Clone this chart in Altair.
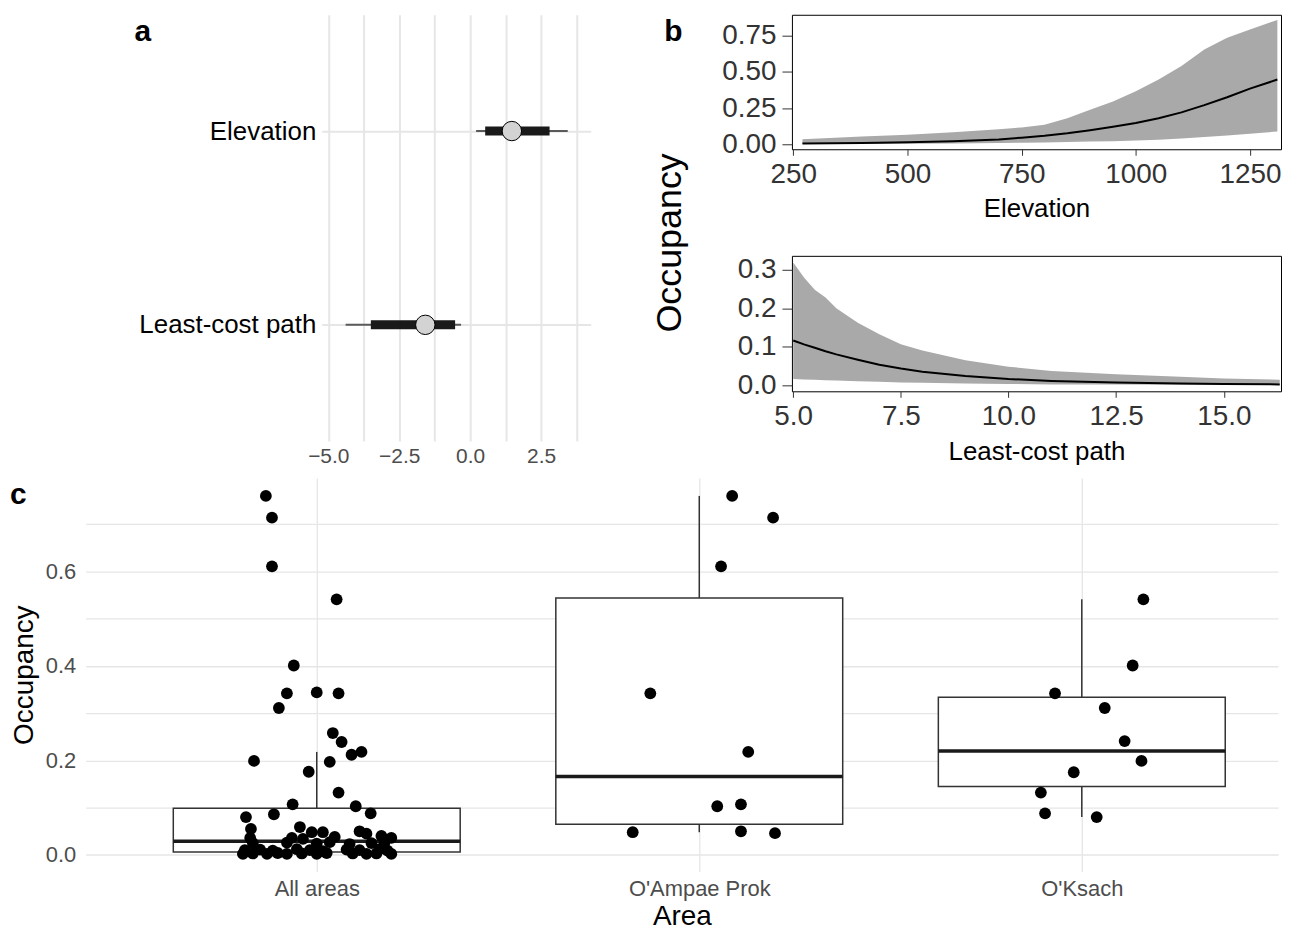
import json
import altair as alt
import pandas as pd

FONT = "Liberation Sans, Arial, Helvetica, sans-serif"
NARROW = "Liberation Sans Narrow, Arial Narrow, Liberation Sans, sans-serif"

# ---------------- panel a: coefficient estimates ----------------
terms = ["Elevation", "Least-cost path"]
estimate = [1.47, -1.58]
inner_lo = [0.53, -3.50]
inner_hi = [2.80, -0.53]
outer_lo = [0.21, -4.39]
outer_hi = [3.44, -0.32]
a_ticks = [-5.0, -3.75, -2.5, -1.25, 0.0, 1.25, 2.5, 3.75]

# ---------------- panel b: predicted occupancy ----------------
elev_x = [270, 400, 500, 600, 700, 750, 800, 850, 900, 950, 1000, 1050, 1100, 1150, 1200, 1250, 1310]
elev_mean = [0.004, 0.008, 0.013, 0.021, 0.033, 0.045, 0.058, 0.075, 0.097, 0.120, 0.146, 0.180, 0.220, 0.270, 0.325, 0.384, 0.447]
elev_lo = [0.001, 0.002, 0.003, 0.005, 0.008, 0.010, 0.012, 0.015, 0.018, 0.021, 0.025, 0.031, 0.040, 0.050, 0.060, 0.072, 0.088]
elev_hi = [0.035, 0.053, 0.065, 0.083, 0.104, 0.116, 0.134, 0.180, 0.238, 0.296, 0.366, 0.447, 0.540, 0.655, 0.736, 0.794, 0.859]

lcp_x = [5.0, 5.25, 5.5, 5.75, 6.0, 6.5, 7.0, 7.5, 8.0, 9.0, 10.0, 11.0, 12.5, 14.0, 15.0, 16.3]
lcp_mean = [0.116, 0.106, 0.097, 0.088, 0.080, 0.066, 0.053, 0.043, 0.035, 0.024, 0.016, 0.011, 0.007, 0.004, 0.003, 0.002]
lcp_lo = [0.016, 0.015, 0.014, 0.013, 0.012, 0.010, 0.009, 0.007, 0.006, 0.004, 0.003, 0.002, 0.0015, 0.001, 0.001, 0.0008]
lcp_hi = [0.319, 0.280, 0.248, 0.228, 0.200, 0.162, 0.132, 0.106, 0.090, 0.065, 0.048, 0.037, 0.028, 0.022, 0.017, 0.014]

# ---------------- panel c: occupancy by area ----------------
areas = ["All areas", "O'Ampae Prok", "O'Ksach"]
box_q1 = [0.006, 0.065, 0.145]
box_med = [0.029, 0.166, 0.220]
box_q3 = [0.099, 0.544, 0.334]
box_wlo = [0.003, 0.048, 0.080]
box_whi = [0.218, 0.760, 0.541]

all_jit = [-0.133, -0.117, -0.117, 0.052, -0.060, -0.078, 0.0, 0.057, -0.099, 0.042, 0.065, 0.091, 0.117,
           -0.164, 0.034, -0.021, 0.057, -0.063, 0.102, -0.185, -0.112, 0.141,
           -0.172, -0.044, -0.013, 0.016, 0.112, 0.169, 0.195, 0.047, 0.130,
           -0.174, -0.065, -0.036,
           -0.167, -0.078, 0.0, 0.034, 0.086, 0.143, 0.177,
           -0.188, -0.148, -0.115, -0.052, -0.018, 0.016, 0.078, 0.112, 0.164, 0.185,
           -0.193, -0.167, -0.130, -0.102, -0.078, -0.039, 0.0, 0.026, 0.094, 0.130, 0.156, 0.195]
all_val = [0.760, 0.714, 0.611, 0.541, 0.401, 0.342, 0.344, 0.342, 0.311, 0.258, 0.239, 0.212, 0.218,
           0.199, 0.197, 0.176, 0.132, 0.107, 0.103, 0.080, 0.086, 0.088,
           0.055, 0.059, 0.048, 0.048, 0.050, 0.040, 0.036, 0.038, 0.045,
           0.036, 0.036, 0.034,
           0.025, 0.026, 0.024, 0.027, 0.023, 0.025, 0.026,
           0.010, 0.011, 0.009, 0.012, 0.010, 0.008, 0.011, 0.010, 0.012, 0.009,
           0.002, 0.003, 0.002, 0.004, 0.002, 0.003, 0.002, 0.004, 0.003, 0.002, 0.003, 0.002]
oap_jit = [0.086, 0.193, 0.057, -0.128, 0.128, 0.047, 0.109, -0.174, 0.109, 0.198]
oap_val = [0.760, 0.714, 0.611, 0.342, 0.218, 0.103, 0.107, 0.048, 0.050, 0.046]
oks_jit = [0.161, 0.133, -0.070, 0.060, 0.112, 0.156, -0.021, -0.107, -0.096, 0.039]
oks_val = [0.541, 0.401, 0.342, 0.311, 0.241, 0.199, 0.175, 0.132, 0.088, 0.080]

panel_labels = ["a", "b", "c"]
shared_title = "Occupancy"

GRID = "#e6e6e6"

# ======================= panel a =======================
df_a = pd.DataFrame({"term": terms, "est": estimate, "ilo": inner_lo, "ihi": inner_hi,
                     "olo": outer_lo, "ohi": outer_hi})


def xa(field):
    return alt.X(field, type="quantitative", title=None,
                 scale=alt.Scale(domain=[-5.23, 4.25], nice=False, zero=False),
                 axis=alt.Axis(values=a_ticks, grid=True, gridColor=GRID, gridWidth=2,
                               domain=False, ticks=False, labelFontSize=21, labelColor="#4d4d4d",
                               labelPadding=4, labelFont=FONT,
                               labelExpr="round(datum.value*4) % 10 == 0 ? format(datum.value, '.1f') : ''"))


ya = alt.Y("term:N", sort=terms, title=None,
           scale=alt.Scale(type="point", padding=0.6),
           axis=alt.Axis(domain=False, ticks=False, grid=True, gridColor=GRID, gridWidth=2,
                         labelFontSize=26, labelColor="black", labelPadding=6, labelFont=FONT,
                         labelLimit=500))

base_a = alt.Chart(df_a)
a_outer = base_a.mark_rule(color="#5a5a5a", strokeWidth=2).encode(x=xa("olo"), x2="ohi", y=ya)
a_inner = base_a.mark_rule(color="#1a1a1a", strokeWidth=9, strokeCap="butt").encode(x=xa("ilo"), x2="ihi", y=ya)
a_point = base_a.mark_circle(size=380, color="#d3d3d3", stroke="black", strokeWidth=1, opacity=1).encode(
    x=xa("est"), y=ya)

lab_a = alt.Chart(pd.DataFrame({"t": [panel_labels[0]]})).mark_text(
    fontSize=30, fontWeight="bold", font=FONT, align="left", baseline="middle", color="black"
).encode(text="t:N", x=alt.value(-188), y=alt.value(17))
lab_b = alt.Chart(pd.DataFrame({"t": [panel_labels[1]]})).mark_text(
    fontSize=30, fontWeight="bold", font=FONT, align="center", baseline="middle", color="black"
).encode(text="t:N", x=alt.value(353), y=alt.value(17))
occ_title = alt.Chart(pd.DataFrame({"t": [shared_title]})).mark_text(
    fontSize=36, font=FONT, align="center", baseline="middle", angle=270, color="black"
).encode(text="t:N", x=alt.value(350), y=alt.value(229))

panel_a = alt.layer(a_outer, a_inner, a_point, lab_a, lab_b, occ_title).properties(width=270, height=428)

# ======================= panel b =======================
BOX = alt.ViewBackground(stroke="black", strokeWidth=1, strokeOpacity=1)


def b_axis(values, fmt, title, tick, pad):
    return alt.Axis(values=values, format=fmt, title=title, grid=False, domain=False,
                    ticks=True, tickSize=tick, tickColor="#333333", tickWidth=1,
                    labelFontSize=28, labelColor="#333333", labelFont=NARROW,
                    labelPadding=pad,
                    titleFontSize=26, titleFont=FONT, titleFontWeight="normal",
                    titleColor="black", titlePadding=8)


df_b1 = pd.DataFrame({"x": elev_x, "m": elev_mean, "lo": elev_lo, "hi": elev_hi})
xb1 = alt.X("x:Q", scale=alt.Scale(domain=[247, 1318], nice=False, zero=False),
            axis=b_axis([250, 500, 750, 1000, 1250], "d", "Elevation", 6, 5))
yb1 = alt.Y("lo:Q", scale=alt.Scale(domain=[-0.035, 0.895], nice=False, zero=False),
            axis=b_axis([0, 0.25, 0.5, 0.75], ".2f", None, 10, 6))
b1 = alt.layer(
    alt.Chart(df_b1).mark_area(color="#a9a9a9", opacity=1).encode(x=xb1, y=yb1, y2="hi"),
    alt.Chart(df_b1).mark_line(color="black", strokeWidth=2).encode(
        x=alt.X("x:Q", title="Elevation"), y=alt.Y("m:Q", title=None)),
).properties(width=491, height=135, view=BOX)

df_b2 = pd.DataFrame({"x": lcp_x, "m": lcp_mean, "lo": lcp_lo, "hi": lcp_hi})
xb2 = alt.X("x:Q", scale=alt.Scale(domain=[4.97, 16.33], nice=False, zero=False),
            axis=b_axis([5, 7.5, 10, 12.5, 15], ".1f", "Least-cost path", 6, 5))
yb2 = alt.Y("lo:Q", scale=alt.Scale(domain=[-0.016, 0.336], nice=False, zero=False),
            axis=b_axis([0, 0.1, 0.2, 0.3], ".1f", None, 10, 6))
b2 = alt.layer(
    alt.Chart(df_b2).mark_area(color="#a9a9a9", opacity=1).encode(x=xb2, y=yb2, y2="hi"),
    alt.Chart(df_b2).mark_line(color="black", strokeWidth=2).encode(
        x=alt.X("x:Q", title="Least-cost path"), y=alt.Y("m:Q", title=None)),
).properties(width=491, height=136, view=BOX)

b_col = alt.vconcat(b1, b2, spacing=32)

# ======================= panel c =======================
box_df = pd.DataFrame({"pos": [1, 2, 3], "q1": box_q1, "med": box_med, "q3": box_q3,
                       "wlo": box_wlo, "whi": box_whi})
pts = []
for i, (jit, val) in enumerate([(all_jit, all_val), (oap_jit, oap_val), (oks_jit, oks_val)]):
    for j, v in zip(jit, val):
        pts.append({"pos": i + 1, "jitter": j, "value": v})
pts_df = pd.DataFrame(pts)

label_expr = json.dumps(areas) + "[datum.value - 1]"


def xc(field):
    return alt.X(field, type="quantitative", title="Area",
                 scale=alt.Scale(domain=[0.396, 3.513], nice=False, zero=False),
                 axis=alt.Axis(values=[1, 2, 3], labelExpr=label_expr, grid=True, gridColor=GRID,
                               gridWidth=1.3, domain=False, ticks=False, labelFontSize=22,
                               labelColor="#4d4d4d", labelPadding=7, labelFont=FONT,
                               titleFontSize=28, titleFont=FONT, titleFontWeight="normal",
                               titleColor="black", titlePadding=3))


def yc(field):
    return alt.Y(field, type="quantitative", title="Occupancy",
                 scale=alt.Scale(domain=[-0.035, 0.798], nice=False, zero=False),
                 axis=alt.Axis(values=[0, 0.1, 0.2, 0.3, 0.4, 0.5, 0.6, 0.7], grid=True,
                               gridColor=GRID, gridWidth=1.3, domain=False, ticks=False,
                               labelExpr="round(datum.value*10) % 2 == 0 ? format(datum.value, '.1f') : ''",
                               labelFontSize=22, labelColor="#4d4d4d", labelPadding=10, labelFont=FONT,
                               titleFontSize=28, titleFont=FONT, titleFontWeight="normal",
                               titleColor="black", titlePadding=7))


base_c = alt.Chart(box_df).transform_calculate(left="datum.pos - 0.375", right="datum.pos + 0.375")
c_wh = base_c.mark_rule(color="#333333", strokeWidth=1.5).encode(x=xc("pos"), y=yc("q3"), y2="whi")
c_wl = base_c.mark_rule(color="#333333", strokeWidth=1.5).encode(x=xc("pos"), y=yc("wlo"), y2="q1")
c_box = base_c.mark_rect(fill="white", stroke="#333333", strokeWidth=1.5).encode(
    x=xc("left"), x2="right", y=yc("q1"), y2="q3")
c_med = base_c.mark_rule(color="#1a1a1a", strokeWidth=3.5).encode(x=xc("left"), x2="right", y=yc("med"))
c_pts = alt.Chart(pts_df).transform_calculate(xj="datum.pos + datum.jitter").mark_circle(
    size=140, color="black", opacity=1).encode(x=xc("xj"), y=yc("value"))
lab_c = alt.Chart(pd.DataFrame({"t": [panel_labels[2]]})).mark_text(
    fontSize=30, fontWeight="bold", font=FONT, align="left", baseline="middle", color="black"
).encode(text="t:N", x=alt.value(-76), y=alt.value(17))

panel_c = alt.layer(c_wh, c_wl, c_box, c_med, c_pts, lab_c).properties(width=1197, height=395)

# ======================= layout =======================
spacer = alt.Chart(pd.DataFrame({"v": [0]})).mark_point(opacity=0, size=1).encode(
    x=alt.value(2), y=alt.value(5)).properties(width=16, height=10)

top = alt.hconcat(spacer, panel_a, b_col, spacing=33)
chart = alt.vconcat(top, panel_c, spacing=12).properties(
    padding={"left": 2, "top": 4, "right": 0, "bottom": 0}
).configure(font=FONT).configure_view(strokeWidth=0)

chart.save("out.html", embed_options={"renderer": "svg", "actions": False})
